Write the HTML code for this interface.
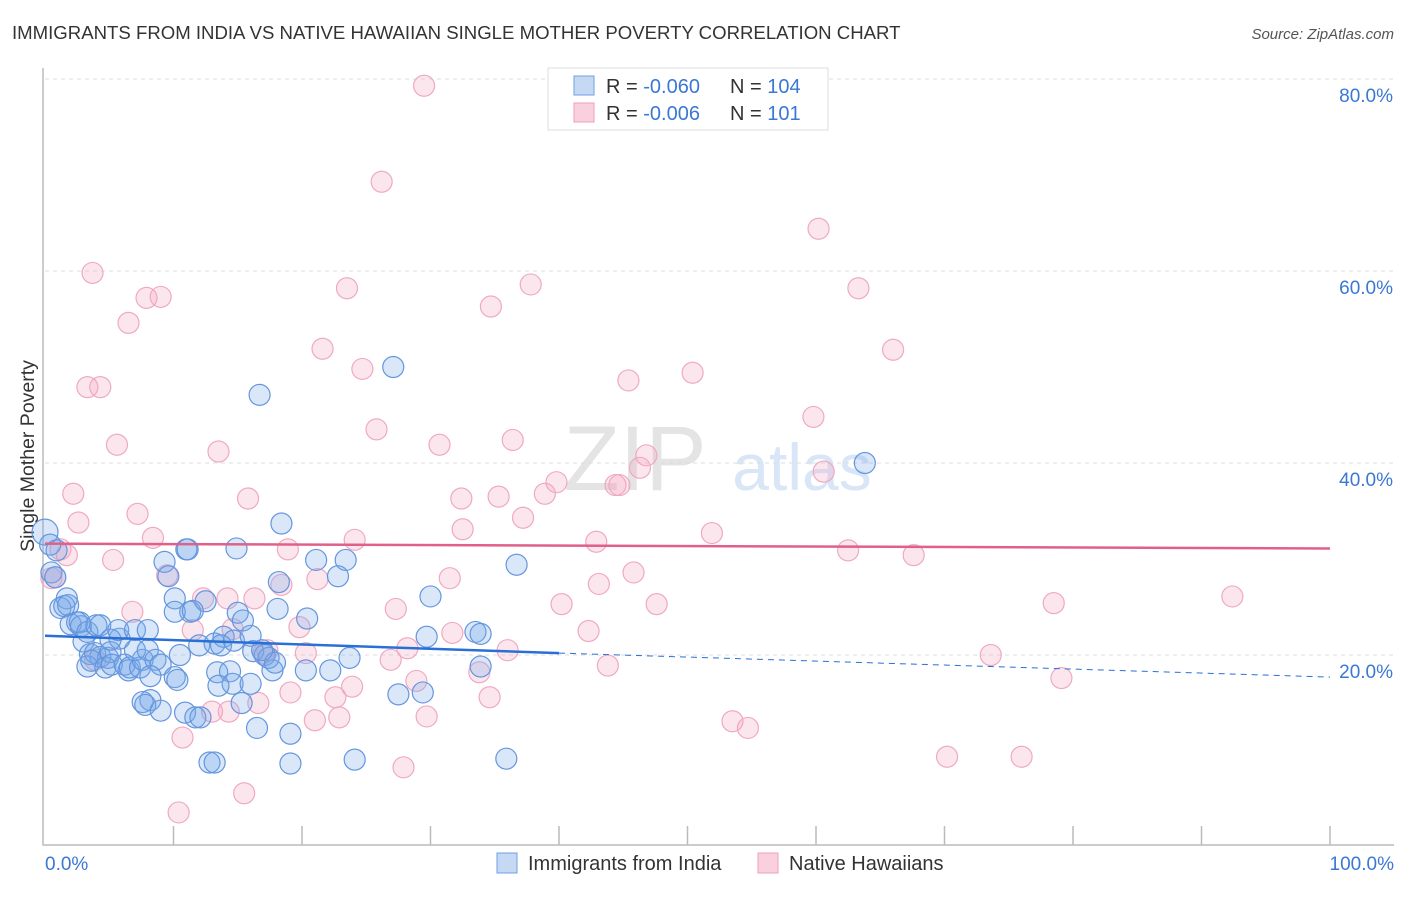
<!DOCTYPE html>
<html><head><meta charset="utf-8"><style>
body{margin:0;background:#fff;font-family:"Liberation Sans",sans-serif}
svg text{font-family:"Liberation Sans",sans-serif}
</style></head><body>
<svg id="chart" width="1406" height="892" xmlns="http://www.w3.org/2000/svg">
<text x="12" y="39" font-size="18.6" fill="#333">IMMIGRANTS FROM INDIA VS NATIVE HAWAIIAN SINGLE MOTHER POVERTY CORRELATION CHART</text>
<text x="1394" y="39" font-size="15" fill="#555" font-style="italic" text-anchor="end">Source: ZipAtlas.com</text>
<text x="635" y="490" font-size="92" fill="#e4e4e4" font-family="Liberation Serif" text-anchor="middle">ZIP</text>
<text x="802" y="490" font-size="66" fill="#d8e6f7" text-anchor="middle">atlas</text>
<text transform="translate(34,456) rotate(-90)" font-size="19.5" fill="#333" text-anchor="middle">Single Mother Poverty</text>
<g id="grid"></g><g id="axes"></g><g id="pts"></g><g id="trend"></g>
<g>
<rect x="548" y="68" width="280" height="62" fill="#fff" stroke="#ddd"/>
<rect x="574" y="76" width="20" height="19" fill="#c5d9f5" stroke="#6f9fe0"/>
<rect x="574" y="103" width="20" height="19" fill="#fad0de" stroke="#eea0ba"/>
<text x="606" y="93" font-size="20" fill="#333">R = <tspan fill="#3a78d4">-0.060</tspan></text>
<text x="730" y="93" font-size="20" fill="#333">N = <tspan fill="#3a78d4">104</tspan></text>
<text x="606" y="120" font-size="20" fill="#333">R = <tspan fill="#3a78d4">-0.006</tspan></text>
<text x="730" y="120" font-size="20" fill="#333">N = <tspan fill="#3a78d4"> 101</tspan></text>
</g>
<g>
<rect x="497" y="853" width="20" height="20" fill="#c5d9f5" stroke="#6f9fe0"/>
<text x="528" y="870" font-size="20" fill="#333">Immigrants from India</text>
<rect x="758" y="853" width="20" height="20" fill="#fad0de" stroke="#eea0ba"/>
<text x="789" y="870" font-size="20" fill="#333">Native Hawaiians</text>
</g>
</svg>
<script>
const yTicks=[20,40,60,80];
const yTickLabels=["20.0%","40.0%","60.0%","80.0%"];
const xTickLabels=["0.0%","100.0%"];
const indiaX=[0,0.4,0.9,0.5,0.8,1.7,1.2,1.5,1.8,2,2.5,2.7,2.8,3,3.3,4,4.3,3.5,3.9,4.3,4.9,5.1,3.3,3.6,4.7,5.2,6.2,6.5,6.6,7.4,7.6,7,8,5.8,5.1,5.7,7,8,8.6,9,8.2,10.1,8.2,7.6,7.8,9,10.9,11.7,12.1,10.3,10.5,9.3,9.6,10.1,11.3,10.1,11,11.1,12.5,11.5,13.4,14.4,14.6,13.5,16,12,13.2,13.9,13.7,14.7,16,12.8,13.2,14.9,15,15.4,15.3,16.5,16.2,17.1,17.7,17.4,17.9,16.9,18.1,18.2,18.4,20.4,19.1,19.1,20.3,22.2,23.7,21.1,22.8,23.4,16.7,27.1,24.1,27.5,29.4,29.7,30,33.5,33.9,33.9,36.7,35.9,63.8];
const indiaY=[32.8,31.5,30.9,28.6,28.1,25.9,24.9,25.1,25.2,23.2,23.4,23.4,23,21.4,22.4,23.1,23.1,20.1,20.2,19.8,19.7,20.3,18.8,19.4,18.7,19,19,18.4,18.7,18.7,19.5,20.5,20.5,21.7,21.6,22.6,22.6,22.6,19.5,19,17.8,17.7,15.3,15.1,14.8,14.2,14,13.5,13.5,17.4,20,29.7,28.2,25.9,24.5,24.5,31,31,25.6,24.6,18.2,18.3,17,16.8,17,21,21.2,21.9,21,21.5,22,8.8,8.8,31.1,24.4,23.6,15,12.4,20.4,20,18.4,19.7,19.2,20.5,24.8,27.6,33.7,23.8,11.8,8.7,18.4,18.4,19.7,29.9,28.2,29.9,47.1,50,9.1,15.9,16.1,21.9,26.1,22.4,22.2,18.8,29.4,9.2,40];
const hawX=[29.5,26.2,60.2,3.7,37.8,23.5,63.3,7.9,9,34.7,6.5,21.6,66,24.7,50.4,45.4,3.3,4.3,59.8,25.8,36.4,30.7,5.6,13.5,46.8,46.3,60.6,39.8,44.4,44.7,2.2,32.4,35.3,38.9,15.8,7.2,37.2,2.6,32.5,51.9,8.4,24.1,42.9,62.5,67.6,18.9,1.7,5.3,9.5,21.2,31.5,45.8,43.1,0.8,18.4,12.3,14.2,16.3,40.2,47.6,78.5,92.4,6.8,27.3,19.8,14.6,31.7,42.3,36,17.3,28.2,20.3,73.6,26.9,43.8,33.8,28.9,23.9,79.1,19.1,22.6,34.6,16.6,13,14.3,21,22.9,29.7,53.5,54.7,10.7,70.2,76,27.9,15.5,10.4,1.2,0.5,17,3.9,11.5];
const hawY=[79.3,69.3,64.4,59.8,58.6,58.2,58.2,57.2,57.3,56.3,54.6,51.9,51.8,49.8,49.4,48.6,47.9,47.9,44.8,43.5,42.4,41.9,41.9,41.2,40.8,39.5,39.1,38,37.7,37.7,36.8,36.3,36.5,36.8,36.3,34.7,34.3,33.8,33.1,32.7,32.2,32,31.8,30.9,30.4,31,30.4,29.9,28.3,27.9,28,28.6,27.4,28.1,27.3,25.9,25.9,25.9,25.3,25.3,25.4,26.1,24.5,24.8,22.9,22.7,22.3,22.5,20.5,20.5,20.7,20.2,20,19.5,18.9,18.2,17.3,16.7,17.6,16.1,15.6,15.6,15,14.1,14.1,13.2,13.5,13.6,13.1,12.4,11.4,9.4,9.4,8.3,5.6,3.6,31,28,20.2,19.5,22.6];
const indiaTrend=[22.0,0,40,20.2,100,17.7];
const hawTrend=[31.6,0,100,31.1];
const X0=45,X1=1330,Y0=847,YS=9.6;
const sx=v=>X0+(X1-X0)*v/100;
const sy=v=>Y0-v*YS;
const NS="http://www.w3.org/2000/svg";
function mk(tag,attrs,parent){const e=document.createElementNS(NS,tag);for(const k in attrs)e.setAttribute(k,attrs[k]);parent.appendChild(e);return e;}
const grid=document.getElementById('grid'),axes=document.getElementById('axes'),pts=document.getElementById('pts'),trend=document.getElementById('trend');
yTicks.forEach((t,i)=>{
 const l=mk('line',{x1:X0,x2:1394,y1:sy(t),y2:sy(t),stroke:'#ddd','stroke-dasharray':'4,4'},grid);
 
 
 const tx=mk('text',{x:1393,y:sy(t)+23,'font-size':19,fill:'#3a78d4','text-anchor':'end'},axes);
 tx.textContent=yTickLabels[i];
 
 
});
const ax=mk('path',{d:`M${X0-2} 68 V845 H1394`,fill:'none',stroke:'#bbb','stroke-width':1.5},axes);


for(let i=1;i<=10;i++){
 const t=mk('line',{x1:sx(i*10),x2:sx(i*10),y1:826,y2:845,stroke:'#bbb','stroke-width':1.5},axes);
 
 
}
const xl0=mk('text',{x:45,y:870,'font-size':19,fill:'#3a78d4'},axes);xl0.textContent=xTickLabels[0];


const xl1=mk('text',{x:1394,y:870,'font-size':19,fill:'#3a78d4','text-anchor':'end'},axes);xl1.textContent=xTickLabels[1];


hawX.forEach((v,i)=>{
 const c=mk('circle',{cx:sx(v),cy:sy(hawY[i]),r:10.5,fill:'rgba(244,165,195,0.28)',stroke:'#efa9c2','stroke-width':1.2},pts);
 
 
});
indiaX.forEach((v,i)=>{
 const c=mk('circle',{cx:sx(v),cy:sy(indiaY[i]),r:i===0?13:10.5,fill:'rgba(120,168,232,0.28)',stroke:'#6496de','stroke-width':1.2},pts);
 
 
});
const b1=mk('line',{x1:sx(indiaTrend[1]),y1:sy(indiaTrend[0]),x2:sx(indiaTrend[2]),y2:sy(indiaTrend[3]),stroke:'#2a6fd6','stroke-width':2.5},trend);


const b2=mk('line',{x1:sx(indiaTrend[2]),y1:sy(indiaTrend[3]),x2:sx(indiaTrend[4]),y2:sy(indiaTrend[5]),stroke:'#2a6fd6','stroke-width':1,'stroke-dasharray':'6,5'},trend);


const p1=mk('line',{x1:sx(hawTrend[1]),y1:sy(hawTrend[0]),x2:sx(hawTrend[2]),y2:sy(hawTrend[3]),stroke:'#e0608a','stroke-width':2.5},trend);


</script>
</body></html>
